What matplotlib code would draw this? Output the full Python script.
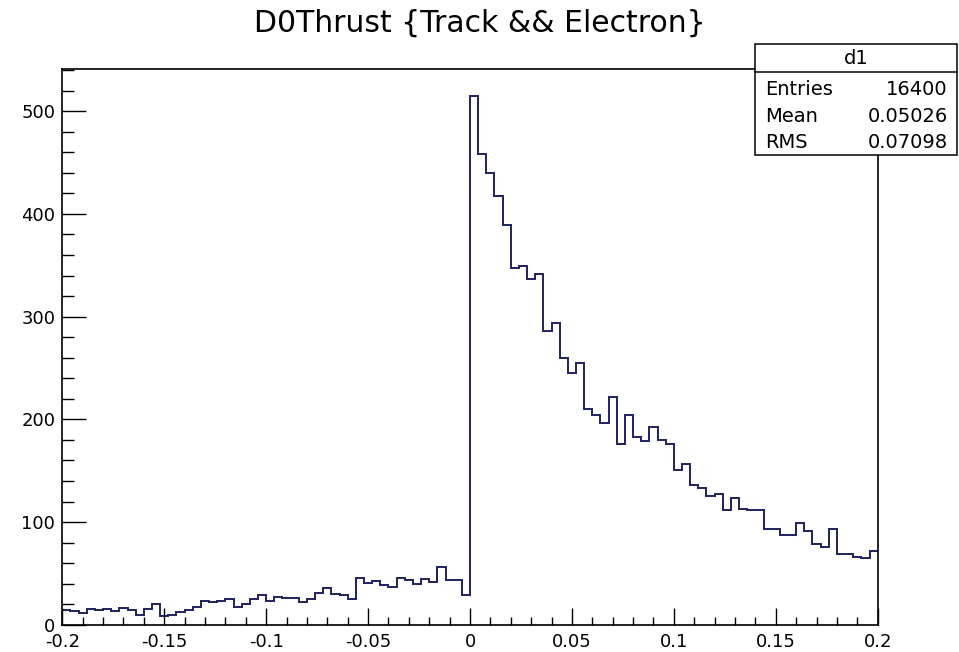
import numpy as np
import matplotlib
matplotlib.use("Agg")
import matplotlib.pyplot as plt
from matplotlib.patches import Rectangle
from matplotlib.ticker import MultipleLocator, FixedLocator, FixedFormatter

# Histogram "d1": 100 bins over [-0.2, 0.2]
x_low, x_high, n_bins = -0.2, 0.2, 100
counts_negative = [
    14, 13, 11, 15, 14, 15, 13, 16, 14, 10,
    15, 20, 9, 10, 12, 14, 17, 23, 22, 23,
    25, 17, 20, 25, 29, 23, 27, 26, 26, 22,
    25, 31, 36, 30, 29, 25, 46, 41, 43, 39,
    37, 46, 44, 40, 45, 42, 56, 44, 44, 29,
]
counts_positive = [
    515, 458, 440, 417, 389, 347, 349, 337, 341, 286,
    294, 260, 245, 255, 210, 204, 196, 222, 176, 204,
    183, 179, 193, 180, 176, 151, 157, 136, 133, 125,
    127, 112, 123, 113, 112, 112, 93, 93, 87, 87,
    99, 91, 79, 76, 93, 69, 69, 66, 65, 72,
]
counts = np.array(counts_negative + counts_positive, dtype=float)

x_tick_values = [-0.2, -0.15, -0.1, -0.05, 0.0, 0.05, 0.1, 0.15, 0.2]
x_tick_labels = ["-0.2", "-0.15", "-0.1", "-0.05", "0", "0.05", "0.1", "0.15", "0.2"]
y_tick_values = [0, 100, 200, 300, 400, 500]
y_tick_labels = ["0", "100", "200", "300", "400", "500"]

title = "D0Thrust {Track && Electron}"
stats_name = "d1"
stats_rows = [("Entries", "16400"), ("Mean", "0.05026"), ("RMS", "0.07098")]

W, H = 959, 652
fig = plt.figure(figsize=(W / 100, H / 100), dpi=100, facecolor="white")

# frame in pixel coordinates
fl, fr, ft, fb = 62.3, 877.7, 69.3, 624.8
ax = fig.add_axes([fl / W, 1 - fb / H, (fr - fl) / W, (fb - ft) / H])
ax.set_facecolor("white")

edges = np.linspace(x_low, x_high, n_bins + 1)
ax.stairs(counts, edges, baseline=None, color="#1e2160", linewidth=1.4)

ax.set_xlim(x_low, x_high)
ax.set_ylim(0, 1.05 * counts.max())

for side in ("left", "right", "top", "bottom"):
    ax.spines[side].set_linewidth(1.2)
    ax.spines[side].set_color("black")

ax.xaxis.set_major_locator(FixedLocator(x_tick_values))
ax.xaxis.set_major_formatter(FixedFormatter(x_tick_labels))
ax.xaxis.set_minor_locator(MultipleLocator(0.01))
ax.yaxis.set_major_locator(FixedLocator(y_tick_values))
ax.yaxis.set_major_formatter(FixedFormatter(y_tick_labels))
ax.yaxis.set_minor_locator(MultipleLocator(20))

ax.tick_params(axis="x", which="major", direction="in", length=12.2, width=1.0,
               labelsize=13, pad=6, top=False)
ax.tick_params(axis="x", which="minor", direction="in", length=6.1, width=1.0, top=False)
ax.tick_params(axis="y", which="major", direction="in", length=17.6, width=1.0,
               labelsize=13, pad=5, right=False)
ax.tick_params(axis="y", which="minor", direction="in", length=8.8, width=1.0, right=False)

# title
fig.text(479.5 / W, 1 - 32 / H, title, ha="center", va="baseline", fontsize=21.5)

# statistics box
bx0, bx1, by0, by1, bsep = 755, 957, 44, 155, 71.7
box = Rectangle((bx0 / W, 1 - by1 / H), (bx1 - bx0) / W, (by1 - by0) / H,
                transform=fig.transFigure, facecolor="white", edgecolor="black",
                linewidth=1.1, zorder=5)
fig.add_artist(box)
fig.add_artist(plt.Line2D([bx0 / W, bx1 / W], [1 - bsep / H, 1 - bsep / H],
                          transform=fig.transFigure, color="black", linewidth=1.1, zorder=6))
fig.text((bx0 + bx1) / 2 / W, 1 - 58 / H, stats_name, ha="center", va="center",
         fontsize=14, zorder=7)
for (name, val), base in zip(stats_rows, [95, 121.7, 148.3]):
    fig.text(765 / W, 1 - base / H, name, ha="left", va="baseline", fontsize=14, zorder=7)
    fig.text(948 / W, 1 - base / H, val, ha="right", va="baseline", fontsize=14, zorder=7)

fig.savefig("out.png", dpi=100, facecolor="white")
